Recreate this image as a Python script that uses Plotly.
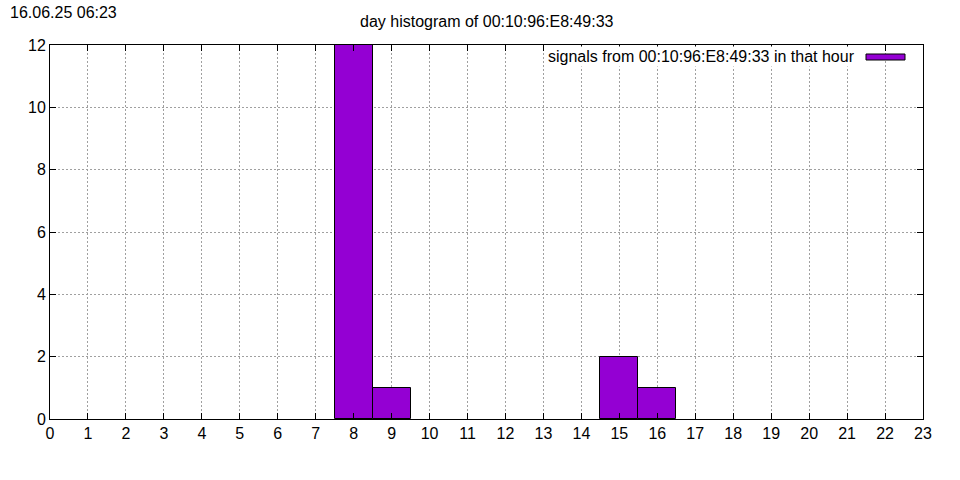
import plotly.graph_objects as go

hours = list(range(24))
counts = [0, 0, 0, 0, 0, 0, 0, 0, 12, 1, 0, 0, 0, 0, 0, 2, 1, 0, 0, 0, 0, 0, 0, 0]
x_ticks = list(range(24))
y_ticks = [0, 2, 4, 6, 8, 10, 12]
title = "day histogram of 00:10:96:E8:49:33"
stamp = "16.06.25 06:23"
legend_label = "signals from 00:10:96:E8:49:33 in that hour"

FONT = "Liberation Sans, Arial, sans-serif"
FS = 16

fig = go.Figure()
fig.add_trace(go.Bar(
    x=hours, y=counts, width=1,
    marker=dict(color="#9400D3",
                line=dict(color="black", width=[1 if c else 0 for c in counts])),
    showlegend=False, hoverinfo="x+y",
))

axis_common = dict(
    showline=True, linecolor="black", linewidth=1, mirror="allticks",
    ticks="inside", ticklen=6, tickcolor="black", tickwidth=1,
    showgrid=True, gridcolor="#a0a0a0", griddash="2px,2px", gridwidth=1,
    zeroline=False, tickfont=dict(family=FONT, size=FS, color="black"),
)

# plot area in reference: x 50..923, y 45..419
fig.update_layout(
    width=960, height=480,
    margin=dict(l=50, r=37, t=45, b=61),
    paper_bgcolor="white", plot_bgcolor="white",
    bargap=0,
    font=dict(family=FONT, size=FS, color="black"),
    xaxis=dict(range=[0, 23], tickvals=x_ticks, ticktext=[str(v) for v in x_ticks], **axis_common),
    yaxis=dict(range=[0, 12], tickvals=y_ticks, ticktext=[str(v) for v in y_ticks], **axis_common),
    showlegend=False,
)

fig.add_annotation(text=title, xref="paper", yref="paper", x=0.5, y=1, yshift=24,
                   xanchor="center", yanchor="middle", showarrow=False,
                   font=dict(family=FONT, size=FS, color="black"))
fig.add_annotation(text=stamp, xref="paper", yref="paper", x=0, xshift=-42, y=1, yshift=33,
                   xanchor="left", yanchor="middle", showarrow=False,
                   font=dict(family=FONT, size=FS, color="black"))
fig.add_annotation(text=legend_label, xref="paper", yref="paper", x=1, xshift=-66, y=1, yshift=-11,
                   xanchor="right", yanchor="middle", showarrow=False, bgcolor="white",
                   font=dict(family=FONT, size=FS, color="black"))
fig.add_shape(type="rect", xref="paper", yref="paper",
              x0=(866 - 50) / 873, x1=(905 - 50) / 873,
              y0=(419 - 60) / 374, y1=(419 - 54) / 374,
              fillcolor="#9400D3", line=dict(color="black", width=1))

fig.write_html("out.html", config={"displayModeBar": False},
               post_script="document.body.style.margin='0';")
